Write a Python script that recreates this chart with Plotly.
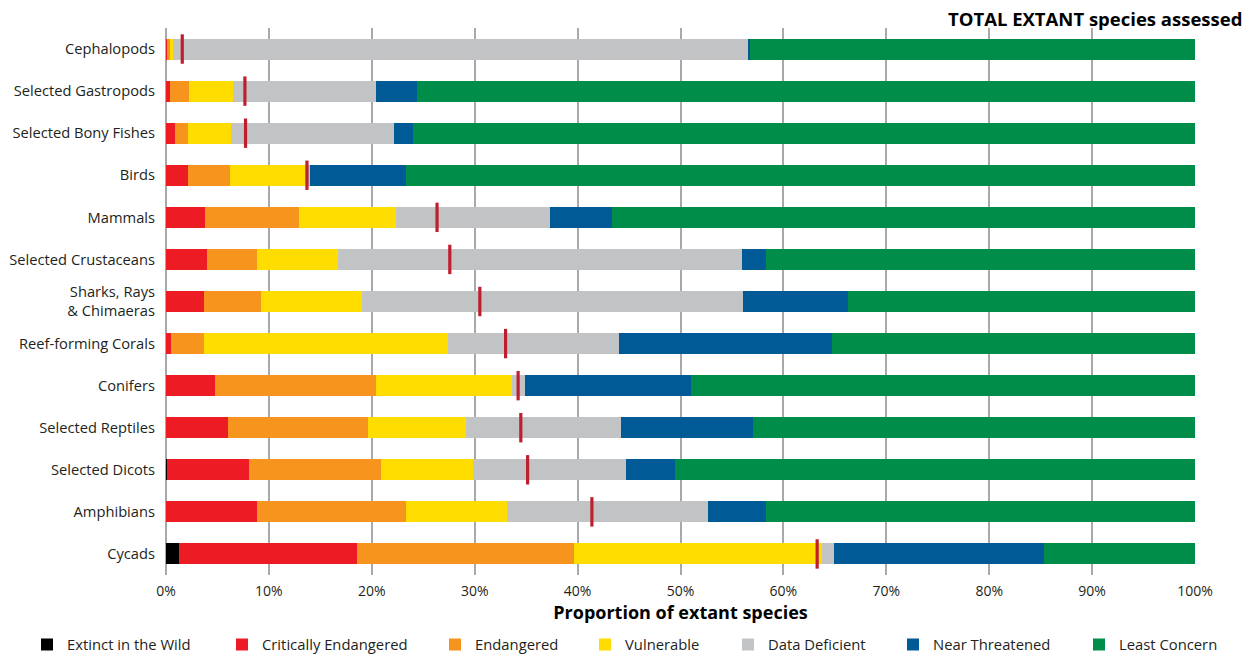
import plotly.graph_objects as go

categories = ["Cephalopods", "Selected Gastropods", "Selected Bony Fishes", "Birds", "Mammals",
              "Selected Crustaceans", "Sharks, Rays<br>& Chimaeras", "Reef-forming Corals",
              "Conifers", "Selected Reptiles", "Selected Dicots", "Amphibians", "Cycads"]

totals = ["750", "633", "3,147", "10,988", "5,815", "2,878", "1,134", "845",
          "610", "342", "2,407", "6,857", "307"]

extinct_wild = [0, 0, 0, 0, 0, 0, 0, 0, 0, 0, 0.10, 0, 1.25]
critically_endangered = [0.13, 0.34, 0.86, 2.09, 3.77, 3.94, 3.65, 0.44, 4.72, 6.05, 7.95, 8.80, 17.31]
endangered = [0.27, 1.88, 1.23, 4.12, 9.19, 4.86, 5.54, 3.21, 15.69, 13.55, 12.85, 14.50, 21.11]
vulnerable = [0.27, 4.25, 4.25, 7.29, 9.43, 7.88, 9.90, 23.76, 13.17, 9.53, 8.94, 9.85, 24.12]
data_deficient = [55.87, 13.98, 15.82, 0.53, 14.92, 39.33, 37.02, 16.64, 1.29, 15.05, 14.89, 19.53, 1.11]
near_threatened = [0.25, 3.95, 1.85, 9.30, 6.06, 2.34, 10.21, 20.72, 16.18, 12.90, 4.76, 5.67, 20.39]
least_concern = [43.21, 75.60, 75.99, 76.67, 56.63, 41.65, 33.68, 35.23, 48.95, 42.92, 50.51, 41.65, 14.71]

best_estimate_threatened = [1.58, 7.67, 7.73, 13.70, 26.34, 27.58, 30.50, 33.00, 34.22, 34.48, 35.14, 41.39, 63.28]

series_names = ["Extinct in the Wild", "Critically Endangered", "Endangered", "Vulnerable",
                "Data Deficient", "Near Threatened", "Least Concern"]
series_values = [extinct_wild, critically_endangered, endangered, vulnerable,
                 data_deficient, near_threatened, least_concern]
series_colors = ["#000000", "#ED1C24", "#F7941D", "#FFDD00", "#C2C3C5", "#005A96", "#008D4A"]

x_ticks = [0, 10, 20, 30, 40, 50, 60, 70, 80, 90, 100]
x_tick_labels = ["0%", "10%", "20%", "30%", "40%", "50%", "60%", "70%", "80%", "90%", "100%"]

FONT = "Open Sans"
TXT = "#231F20"

# legend square left positions (px) in the reference
legend_px = [46, 241, 454, 604, 747, 912, 1098]
L, R, T, B = 166, 63, 28, 83
W, H = 1258, 658
pw = W - L - R
ph = H - T - B

fig = go.Figure()
for i, (name, vals, col) in enumerate(zip(series_names, series_values, series_colors)):
    leg = "legend" if i == 0 else f"legend{i+1}"
    fig.add_trace(go.Bar(
        y=categories, x=vals, name=name, orientation="h",
        marker=dict(color=col, line=dict(width=0)),
        legend=leg, hoverinfo="name+x",
    ))

fig.add_trace(go.Scatter(
    y=categories, x=best_estimate_threatened, mode="markers", showlegend=False,
    marker=dict(symbol="line-ns", size=21, color="#BE1E2D",
                line=dict(color="#BE1E2D", width=3.2)),
    hoverinfo="x",
))

for cat, tot in zip(categories, totals):
    fig.add_annotation(x=(1244 - L) / pw * 100, y=cat, xref="x", yref="y",
                       text=tot, showarrow=False, xanchor="right", yanchor="middle",
                       font=dict(family=FONT, size=14, color=TXT))

fig.add_annotation(x=(1244 - L) / pw, y=1 + (T - 18) / ph, xref="paper", yref="paper",
                   text="<b>TOTAL EXTANT species assessed</b>", showarrow=False,
                   xanchor="right", yanchor="middle",
                   font=dict(family=FONT, size=18.5, color="#000000"))

legends = {}
for i, px in enumerate(legend_px):
    key = "legend" if i == 0 else f"legend{i+1}"
    legends[key] = dict(
        x=(px - 19 - L) / pw, xanchor="left",
        y=(T + ph - 645) / ph, yanchor="middle",
        orientation="h", bgcolor="rgba(0,0,0,0)",
        font=dict(family=FONT, size=14.8, color=TXT),
        itemwidth=30, itemclick=False, itemdoubleclick=False,
    )

fig.update_layout(
    width=W, height=H, autosize=False,
    margin=dict(l=L, r=R, t=T, b=B, autoexpand=False),
    barmode="stack", bargap=0.5,
    plot_bgcolor="white", paper_bgcolor="white",
    font=dict(family=FONT, size=14, color=TXT),
    xaxis=dict(range=[0, 100], tickvals=x_ticks, ticktext=x_tick_labels,
               showgrid=True, gridcolor="#A7A9AC", gridwidth=1.5,
               zeroline=True, zerolinecolor="#A7A9AC", zerolinewidth=1.5,
               showline=False, ticks="", ticklabelstandoff=6,
               tickfont=dict(family=FONT, size=14, color=TXT),
               title=dict(text="<b>Proportion of extant species</b>", standoff=2,
                          font=dict(family=FONT, size=18, color="#000000")),
               fixedrange=True),
    yaxis=dict(type="category", categoryorder="array", categoryarray=categories,
               range=[len(categories) - 0.5, -0.5],
               showgrid=False, ticks="", ticklabelstandoff=10,
               tickfont=dict(family=FONT, size=14.7, color=TXT), fixedrange=True),
    **legends,
)

fig.write_html("out.html", config={"displayModeBar": False},
               post_script="document.body.style.margin='0';document.body.style.overflow='hidden';")
